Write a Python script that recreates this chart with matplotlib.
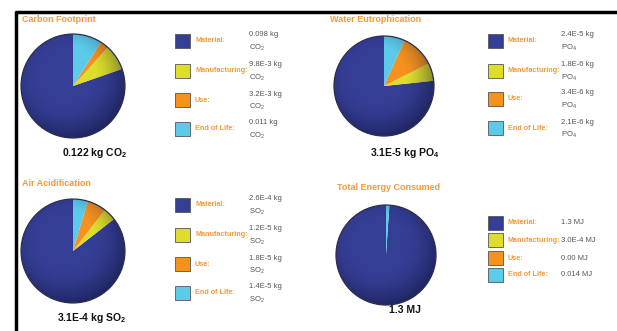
import numpy as np
import matplotlib
matplotlib.use("Agg")
import matplotlib.pyplot as plt
from matplotlib.patches import Rectangle, Circle

plt.rcParams['font.family'] = ['Liberation Sans', 'DejaVu Sans']
plt.rcParams['mathtext.fontset'] = 'custom'
plt.rcParams['mathtext.rm'] = 'Liberation Sans'
plt.rcParams['mathtext.bf'] = 'Liberation Sans:bold'

W, H = 617, 331

# data
categories = ['Material:', 'Manufacturing:', 'Use:', 'End of Life:']
colors = ['#353e95', '#dede2a', '#f5921e', '#5ccbea']

carbon_vals = [0.098, 9.8e-3, 3.2e-3, 0.011]
carbon_text = ['0.098 kg', '9.8E-3 kg', '3.2E-3 kg', '0.011 kg']
water_vals = [2.4e-5, 1.8e-6, 3.4e-6, 2.1e-6]
water_text = ['2.4E-5 kg', '1.8E-6 kg', '3.4E-6 kg', '2.1E-6 kg']
air_vals = [2.6e-4, 1.2e-5, 1.8e-5, 1.4e-5]
air_text = ['2.6E-4 kg', '1.2E-5 kg', '1.8E-5 kg', '1.4E-5 kg']
energy_vals = [1.3, 3.0e-4, 0.0, 0.014]
energy_text = ['1.3 MJ', '3.0E-4 MJ', '0.00 MJ', '0.014 MJ']

panels = [
    dict(title='Carbon Footprint', vals=carbon_vals, text=carbon_text, unit='CO$_2$',
         total='0.122 kg CO$_\\mathbf{2}$', tx=22, ty=20, cx=73, cy=86, r=53,
         lx=175, rows=[41, 71, 100, 129], vx=249, tot=(95, 153)),
    dict(title='Water Eutrophication', vals=water_vals, text=water_text, unit='PO$_4$',
         total='3.1E-5 kg PO$_\\mathbf{4}$', tx=330, ty=20, cx=384, cy=86, r=51,
         lx=488, rows=[41, 71, 99, 128], vx=561, tot=(405, 153)),
    dict(title='Air Acidification', vals=air_vals, text=air_text, unit='SO$_2$',
         total='3.1E-4 kg SO$_\\mathbf{2}$', tx=22, ty=183, cx=73, cy=251, r=53,
         lx=175, rows=[205, 235, 264, 293], vx=249, tot=(92, 318)),
    dict(title='Total Energy Consumed', vals=energy_vals, text=energy_text, unit=None,
         total='1.3 MJ', tx=337, ty=187, cx=386, cy=255, r=51,
         lx=488, rows=[223, 240, 258, 275], vx=561, tot=(405, 310)),
]

fig = plt.figure(figsize=(W / 100, H / 100), dpi=100)
fig.patch.set_facecolor('white')

# overlay axes in pixel units for text and legend boxes
ov = fig.add_axes([0, 0, 1, 1])
ov.set_xlim(0, W)
ov.set_ylim(H, 0)
ov.axis('off')

# black frame (top and left edges)
ov.plot([15, W], [11.5, 11.5], color='black', lw=2.5, solid_capstyle='butt')
ov.plot([15.5, 15.5], [10.5, H], color='black', lw=2.5, solid_capstyle='butt')

# radial shading for the glossy pies: dark rim, lighter centre
yy, xx = np.mgrid[1:-1:200j, -1:1:200j]
dist = np.sqrt((xx + 0.15) ** 2 + (yy - 0.2) ** 2)
shade = np.zeros((200, 200, 4))
shade[..., 0] = 0.05
shade[..., 1] = 0.06
shade[..., 2] = 0.2
shade[..., 3] = np.clip((dist - 0.55) / 0.7, 0, 1) ** 1.6 * 0.55

for p in panels:
    cx, cy, r = p['cx'], p['cy'], p['r']
    ax = fig.add_axes([(cx - r) / W, 1 - (cy + r) / H, 2 * r / W, 2 * r / H])
    ax.pie(p['vals'], colors=colors, startangle=90, counterclock=True,
           radius=1, wedgeprops=dict(linewidth=0))
    ax.set_xlim(-1.02, 1.02)
    ax.set_ylim(-1.02, 1.02)
    ax.axis('off')
    im = ax.imshow(shade, extent=[-1, 1, -1, 1], zorder=3, interpolation='bilinear')
    im.set_clip_path(Circle((0, 0), 1, transform=ax.transData))
    ax.set_xlim(-1.02, 1.02)
    ax.set_ylim(-1.02, 1.02)
    ax.add_patch(Circle((0, 0), 1, fill=False, ec='#2b2f4a', lw=0.9, zorder=4))

    ov.text(p['tx'], p['ty'], p['title'], color='#f39a3c', fontsize=6.5, fontweight='bold',
            va='center', ha='left')
    ov.text(p['tot'][0], p['tot'][1], p['total'], color='#111111', fontsize=7.5,
            fontweight='bold', va='center', ha='center')

    for cat, col, txt, ry in zip(categories, colors, p['text'], p['rows']):
        ov.add_patch(Rectangle((p['lx'], ry - 7), 15, 14, facecolor=col,
                               edgecolor='#555555', lw=0.6))
        ov.text(p['lx'] + 20, ry, cat, color='#f39a3c', fontsize=5.2,
                fontweight='bold', va='center', ha='left')
        if p['unit']:
            ov.text(p['vx'], ry - 6, txt, color='#555555', fontsize=5.5,
                    va='center', ha='left')
            ov.text(p['vx'], ry + 7, p['unit'], color='#555555', fontsize=5.5,
                    va='center', ha='left')
        else:
            ov.text(p['vx'], ry, txt, color='#555555', fontsize=5.5,
                    va='center', ha='left')

fig.savefig('out.png', dpi=100, facecolor='white')
